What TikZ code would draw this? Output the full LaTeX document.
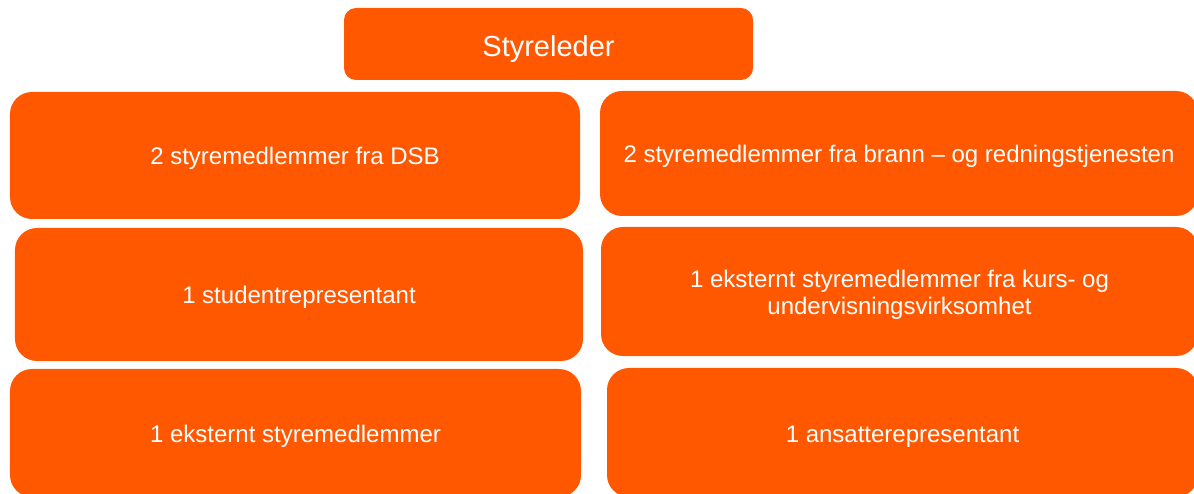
\documentclass[tikz,border=0pt]{standalone}
\usepackage{fontspec}
\setmainfont{Liberation Sans}
\usetikzlibrary{positioning}
\definecolor{boardorange}{RGB}{255,88,0}
\tikzset{
    every picture/.style={line width=0.5pt},
    member/.style={rectangle,rounded corners=22bp,fill=boardorange,text=white,align=center,inner sep=0pt,
        text height=19bp,text depth=0bp,font=\fontsize{24bp}{27bp}\selectfont},
    chair/.style={member,rounded corners=12bp,text height=25.4bp,font=\fontsize{29bp}{34bp}\selectfont}
}
\begin{document}
\begin{tikzpicture}[x=1bp,y=-1bp]
    \useasboundingbox (0,0) rectangle (1194,494);
    \clip (0,0) rectangle (1194,494);

    % board leader
    \node[chair,minimum width=409bp,minimum height=72bp] (leder) at (548.5,44) {Styreleder};

    % left column
    \node[member,minimum width=570bp,minimum height=127bp] (dsb) at (295,155.5) {2 styremedlemmer fra DSB};
    \node[member,minimum width=568bp,minimum height=133bp] (student) at (299,294.5) {1 studentrepresentant};
    \node[member,minimum width=571bp,minimum height=128bp] (ekstern) at (295.5,433) {1 eksternt styremedlemmer};

    % right column
    \node[member,minimum width=598bp,minimum height=125bp] (brann) at (899,153.5) {2 styremedlemmer fra brann -- og redningstjenesten};
    \node[member,minimum width=597bp,minimum height=129bp,text height=45.6bp] (kurs) at (899.5,291.5) {1 eksternt styremedlemmer fra kurs- og\\undervisningsvirksomhet};
    \node[member,minimum width=591bp,minimum height=129bp] (ansatt) at (902.5,432.5) {1 ansatterepresentant};
\end{tikzpicture}
\end{document}
